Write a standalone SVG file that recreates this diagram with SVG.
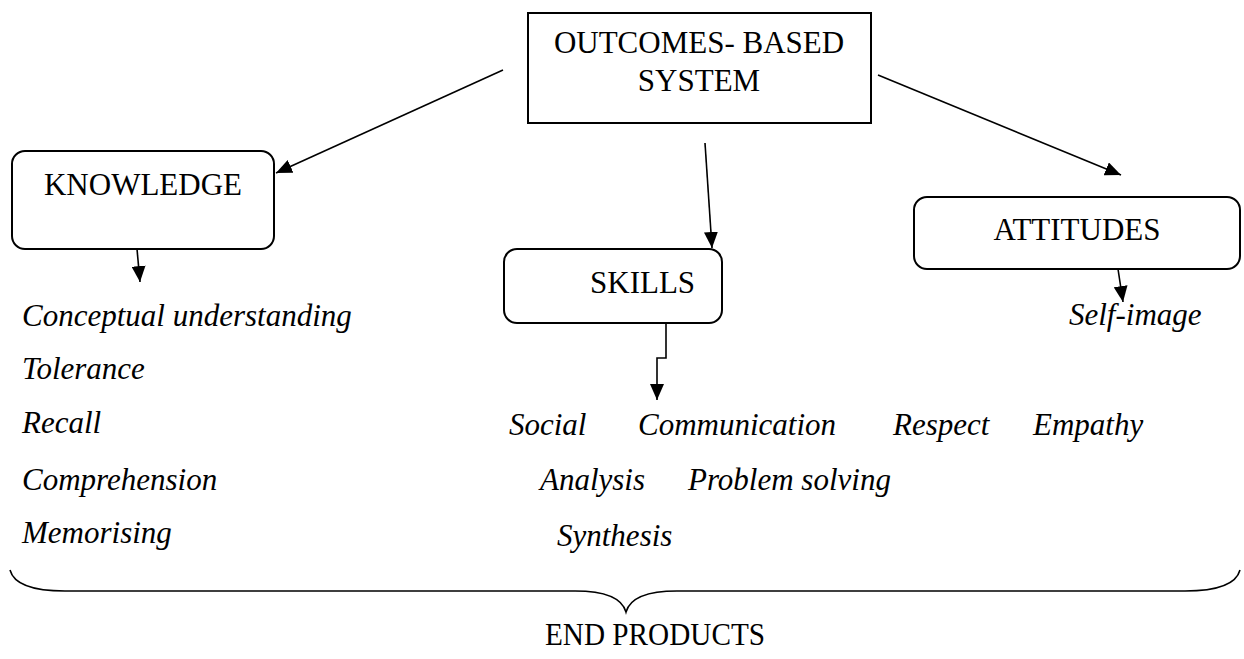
<svg xmlns="http://www.w3.org/2000/svg" width="1244" height="659" viewBox="0 0 1244 659">
<style>
.box{fill:#fff;stroke:#000;stroke-width:2}
.t{font-family:"Liberation Serif","Times New Roman",serif;font-size:31px;fill:#000}
.i{font-family:"Liberation Serif","Times New Roman",serif;font-size:31px;font-style:italic;fill:#000}
.c{fill:none;stroke:#000;stroke-width:1.6}
</style>
<defs>
<marker id="ah" markerUnits="userSpaceOnUse" markerWidth="17" markerHeight="14" refX="16" refY="7" orient="auto">
<path d="M0,0 L16,7 L0,14 z" fill="#000"/>
</marker>
</defs>
<rect width="1244" height="659" fill="#fff"/>
<g id="connectors">
<line class="c" x1="503" y1="70" x2="276" y2="173" marker-end="url(#ah)"/>
<line class="c" x1="705" y1="143" x2="712" y2="248" marker-end="url(#ah)"/>
<line class="c" x1="878" y1="75" x2="1121" y2="175" marker-end="url(#ah)"/>
<line class="c" x1="137" y1="249" x2="140" y2="282" marker-end="url(#ah)"/>
<polyline class="c" points="666,323 666,358 657,358 657,400" marker-end="url(#ah)"/>
<line class="c" x1="1118" y1="269" x2="1123" y2="302" marker-end="url(#ah)"/>
</g>
<g id="outcomes">
<rect class="box" x="528" y="13" width="343" height="110"/>
<text class="t" x="699" y="53" text-anchor="middle">OUTCOMES- BASED</text>
<text class="t" x="699" y="91" text-anchor="middle">SYSTEM</text>
</g>
<g id="knowledge">
<rect class="box" x="12" y="151" width="262" height="98" rx="13"/>
<text class="t" x="143" y="195" text-anchor="middle">KNOWLEDGE</text>
</g>
<g id="skills">
<rect class="box" x="504" y="249" width="218" height="74" rx="13"/>
<text class="t" x="590" y="293">SKILLS</text>
</g>
<g id="attitudes">
<rect class="box" x="914" y="197" width="326" height="72" rx="13"/>
<text class="t" x="1077" y="240" text-anchor="middle">ATTITUDES</text>
</g>
<g id="knowledge-items">
<text class="i" x="22" y="326">Conceptual understanding</text>
<text class="i" x="22" y="379">Tolerance</text>
<text class="i" x="22" y="433">Recall</text>
<text class="i" x="22" y="490">Comprehension</text>
<text class="i" x="22" y="543">Memorising</text>
</g>
<g id="skills-items">
<text class="i" x="509" y="435">Social</text>
<text class="i" x="638" y="435">Communication</text>
<text class="i" x="893" y="435">Respect</text>
<text class="i" x="1033" y="435">Empathy</text>
<text class="i" x="540" y="490">Analysis</text>
<text class="i" x="688" y="490">Problem solving</text>
<text class="i" x="557" y="546">Synthesis</text>
</g>
<g id="attitudes-items">
<text class="i" x="1069" y="325">Self-image</text>
</g>
<g id="end-products">
<path class="c" d="M10,570 C14,585 35,591 65,591 L575,591 C605,591 622,598 626,612 C630,598 647,591 677,591 L1185,591 C1215,591 1236,585 1240,570"/>
<text class="t" x="545" y="645" textLength="220" lengthAdjust="spacingAndGlyphs">END PRODUCTS</text>
</g>
</svg>
